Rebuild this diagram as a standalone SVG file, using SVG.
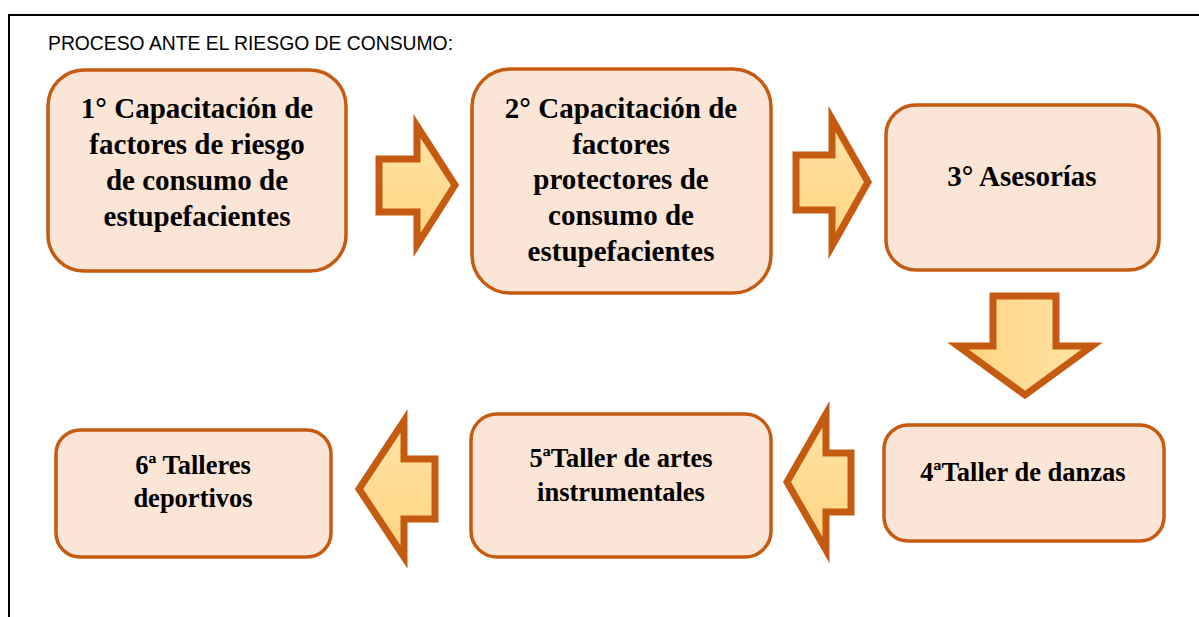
<svg xmlns="http://www.w3.org/2000/svg" width="1199" height="617" viewBox="0 0 1199 617">
<defs>
<linearGradient id="ag" x1="0" y1="0" x2="0" y2="1">
<stop offset="0" stop-color="#FFE3A6"/>
<stop offset="1" stop-color="#FFD480"/>
</linearGradient>
<linearGradient id="agv" x1="0" y1="0" x2="1" y2="0">
<stop offset="0" stop-color="#FFD480"/>
<stop offset="1" stop-color="#FFE3A6"/>
</linearGradient>
<style>
.box{fill:#FBE5D6;stroke:#C55A11;stroke-width:3.5}
.arr{stroke:#C55A11;stroke-width:7;stroke-linejoin:miter;stroke-miterlimit:10}
.t{font-family:"Liberation Serif","Times New Roman",serif;font-weight:bold;fill:#000;text-anchor:middle}
.big{font-size:29px}
.sm{font-size:26.5px}
.title{font-family:"Liberation Sans",Arial,sans-serif;font-size:20.5px;fill:#000}
</style>
</defs>
<rect width="1199" height="617" fill="#fff"/>
<path d="M9 617 V15 H1199" fill="none" stroke="#000" stroke-width="2"/>
<text class="title" x="48" y="50" textLength="405" lengthAdjust="spacingAndGlyphs">PROCESO ANTE EL RIESGO DE CONSUMO:</text>

<g id="connectors">
<polygon class="arr" fill="url(#ag)" points="379,159 417,159 417,126 455,185 417,245 417,212 379,212"/>
<polygon class="arr" fill="url(#ag)" points="796,155 832,155 832,119 868,182 832,246 832,210 796,210"/>
<polygon class="arr" fill="url(#agv)" points="993,296 1056,296 1056,346 1092,346 1025,395 958,346 993,346"/>
<polygon class="arr" fill="url(#ag)" points="851,453 826,453 826,414 787,482 826,550 826,512 851,512"/>
<polygon class="arr" fill="url(#ag)" points="435,459 404,459 404,421 359,489 404,557 404,519 435,519"/>
</g>

<g id="node1">
<rect class="box" x="48" y="70" width="298" height="201" rx="36"/>
<text class="t big" x="197" y="118">1° Capacitación de</text>
<text class="t big" x="197" y="154">factores de riesgo</text>
<text class="t big" x="197" y="190">de consumo de</text>
<text class="t big" x="197" y="226">estupefacientes</text>
</g>

<g id="node2">
<rect class="box" x="472" y="69" width="299" height="224" rx="38"/>
<text class="t big" x="621" y="118">2° Capacitación de</text>
<text class="t big" x="621" y="154">factores</text>
<text class="t big" x="621" y="189">protectores de</text>
<text class="t big" x="621" y="225">consumo de</text>
<text class="t big" x="621" y="261">estupefacientes</text>
</g>

<g id="node3">
<rect class="box" x="886" y="105" width="273" height="165" rx="30"/>
<text class="t big" x="1022" y="186">3° Asesorías</text>
</g>

<g id="node4">
<rect class="box" x="884" y="425" width="280" height="116" rx="24"/>
<text class="t sm" x="1023" y="481">4ªTaller de danzas</text>
</g>

<g id="node5">
<rect class="box" x="471" y="414" width="300" height="143" rx="26"/>
<text class="t sm" x="621" y="467">5ªTaller de artes</text>
<text class="t sm" x="621" y="501">instrumentales</text>
</g>

<g id="node6">
<rect class="box" x="56" y="430" width="275" height="127" rx="24"/>
<text class="t sm" x="193" y="474">6ª Talleres</text>
<text class="t sm" x="193" y="507">deportivos</text>
</g>
</svg>
